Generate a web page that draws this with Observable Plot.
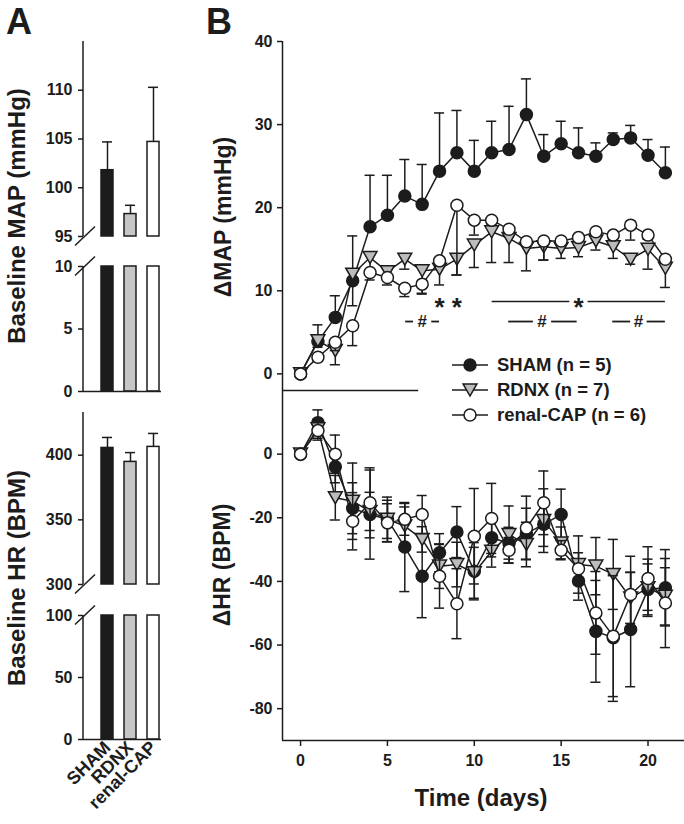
<!DOCTYPE html>
<html>
<head>
<meta charset="utf-8">
<script src="https://cdn.jsdelivr.net/npm/d3@7"></script>
<script src="https://cdn.jsdelivr.net/npm/@observablehq/plot@0.6"></script>
<style>
  body { margin: 0; background: #fff; }
  #fig { position: relative; width: 684px; height: 824px; overflow: hidden; background: #fff; }
  #fig svg { position: absolute; left: 0; top: 0; }
</style>
</head>
<body>
<div id="fig"></div>
<script>
// ---------------- DATA ----------------
// Panel A: baseline values
const categories = ["SHAM", "RDNX", "renal-CAP"];
const baselineMAP = [101.8, 97.3, 104.7];
const baselineMAPsem = [2.9, 0.9, 5.6];
const baselineHR = [405.6, 394.8, 406.4];
const baselineHRsem = [8.1, 7.2, 10.4];
// broken-axis segments
const mapUpperDomain = [95, 115];
const mapLowerDomain = [0, 10];
const hrUpperDomain = [300, 433];
const hrLowerDomain = [0, 100];
const mapUpperTicks = [95, 100, 105, 110];
const mapLowerTicks = [0, 5, 10];
const hrUpperTicks = [300, 350, 400];
const hrLowerTicks = [0, 50, 100];

// Panel B: time course
const groups = ["SHAM", "RDNX", "renal-CAP"];
const groupN = [5, 7, 6];
const days = [0, 1, 2, 3, 4, 5, 6, 7, 8, 9, 10, 11, 12, 13, 14, 15, 16, 17, 18, 19, 20, 21];
const dMAP_SHAM = [0, 3.9, 6.8, 11.2, 17.7, 19.1, 21.4, 20.4, 24.4, 26.6, 24.4, 26.6, 27.0, 31.2, 26.2, 27.7, 26.6, 26.2, 28.2, 28.4, 26.3, 24.2];
const dMAP_SHAM_sem = [0, 2.0, 2.6, 5.4, 6.2, 4.8, 4.4, 4.8, 7.0, 5.1, 3.7, 3.8, 5.2, 4.3, 2.6, 2.7, 3.0, 1.6, 0.8, 1.5, 1.9, 3.1];
const dMAP_RDNX = [0, 4.0, 2.8, 12.0, 14.0, 12.3, 13.8, 12.4, 12.6, 13.8, 15.5, 17.1, 16.3, 15.1, 15.3, 15.1, 15.2, 16.0, 15.3, 13.8, 15.0, 12.7];
const dMAP_RDNX_sem = [0, 0.8, 1.7, 3.8, 1.5, 1.0, 1.2, 2.8, 1.9, 1.9, 2.7, 3.7, 2.9, 2.7, 1.6, 1.2, 1.1, 1.1, 1.4, 0.6, 2.4, 2.3];
const dMAP_CAP = [0, 2.0, 3.8, 5.8, 12.2, 11.6, 10.3, 10.8, 13.6, 20.3, 18.5, 18.5, 17.4, 15.9, 16.0, 16.0, 16.4, 17.1, 16.7, 17.9, 16.7, 13.8];
const dMAP_CAP_sem = [0, 0.5, 1.0, 2.4, 0.9, 0.9, 1.0, 1.1, 0.5, 8.4, 1.8, 0.6, 0.5, 0.5, 2.3, 0.4, 0.5, 0.5, 0.5, 1.8, 0.5, 0.5];

const dHR_SHAM = [0, 9.9, -4, -17, -19.0, -20.5, -29.2, -38.4, -31.0, -24.5, -36.8, -26.3, -28, -25, -22, -19.0, -39.9, -55.7, -57.7, -55.1, -42.5, -42.0];
const dHR_SHAM_sem = [0, 4, 5, 8, 14, 7, 14, 13, 6, 8, 9, 6, 5, 8, 7, 8, 6, 16, 20, 18, 8, 12];
const dHR_RDNX = [0, 8.0, -13.7, -14.8, -18.0, -20.5, -22.6, -26.8, -35.2, -34.7, -37.3, -30.5, -25.3, -28.4, -20.9, -27.9, -34.7, -35.2, -37.8, -45.2, -42.0, -44.7];
const dHR_RDNX_sem = [0, 3, 7, 12, 6, 6, 6, 4, 7, 7, 8, 5, 9, 7, 10, 5, 9, 9, 11, 8, 9, 9];
const dHR_CAP = [0, 7.4, 0, -21.1, -15.3, -21.6, -20.5, -19.0, -38.4, -47.0, -25.8, -20.2, -30.2, -23.2, -15.3, -30.2, -36.0, -49.9, -57.2, -44.1, -39.1, -46.8];
const dHR_CAP_sem = [0, 3, 6, 9, 11, 6, 5, 6, 10, 11, 15, 11, 4, 10, 10, 3, 5, 13, 19, 12, 10, 14];

const mapTicks = [0, 10, 20, 30, 40];
const hrTicks = [0, -20, -40, -60, -80];
const dayTicks = [0, 5, 10, 15, 20];

// significance annotations (day positions, ΔMAP levels)
const starDays = [8, 9, 16];
const starLevel = 8.7;
const starLineSpans = [[11.03, 15.5], [16.55, 21.0]];
const hashDays = [7, 13.9, 19.45];
const hashLevel = 6.3;
const hashDashSpans = [[6.05, 6.5], [7.55, 8.0], [11.98, 13.4], [14.45, 15.92], [17.97, 19.0], [19.95, 21.0]];

// ---------------- STYLE ----------------
const W = 684, H = 824;
const INK = "#1c1c1c";
const NS = "http://www.w3.org/2000/svg";
const FONT = '"Liberation Sans", Arial, Helvetica, sans-serif';
const barFills = ["#1c1c1c", "#c6c6c6", "#ffffff"];
const dotFills = ["#1c1c1c", "#bcbcbc", "#ffffff"];
const baseStyle = `background: transparent; overflow: visible; font-family: ${FONT}; font-size: 16px; font-weight: bold; color: ${INK};`;

const triDown = {
  draw(ctx, size) {
    const s = Math.sqrt(size) * 1.3;
    const h = s * 0.87;
    ctx.moveTo(-s / 2, -h / 2);
    ctx.lineTo(s / 2, -h / 2);
    ctx.lineTo(0, h / 2);
    ctx.closePath();
  }
};
const groupSymbols = ["circle", triDown, "circle"];

function svgLine(x1, y1, x2, y2, sw = 1.5) {
  const l = document.createElementNS(NS, "line");
  l.setAttribute("x1", x1); l.setAttribute("y1", y1);
  l.setAttribute("x2", x2); l.setAttribute("y2", y2);
  l.setAttribute("stroke", INK); l.setAttribute("stroke-width", sw);
  return l;
}
function leftLine() {
  return (index, scales, values, dims) =>
    svgLine(dims.marginLeft, dims.marginTop, dims.marginLeft, dims.height - dims.marginBottom);
}
function slash(edge) {
  return (index, scales, values, dims) => {
    const x = dims.marginLeft + 2;
    const y = edge === "top" ? dims.marginTop : dims.height - dims.marginBottom;
    return svgLine(x - 10, y + 9.5, x + 10, y - 9.5);
  };
}

// ---------------- PANEL A ----------------
function panelASegment({values, sems, domain, ticks, mt, mb, lower, bottom}) {
  const rows = categories.map((c, i) => ({cat: c, v: values[i], e: sems[i]}));
  const marks = [
    Plot.barY(rows, {x: "cat", y1: domain[0], y2: d => Math.min(d.v, domain[1]), fill: "cat", stroke: INK, strokeWidth: 1.5})
  ];
  if (!lower) {
    marks.push(Plot.ruleX(rows, {x: "cat", y1: "v", y2: d => d.v + d.e, stroke: INK, strokeWidth: 1.5}));
    marks.push(Plot.tickY(rows, {x: "cat", y: d => d.v + d.e, stroke: INK, strokeWidth: 1.5, inset: 1}));
  }
  marks.push(Plot.axisY({ticks, tickSize: 5, tickPadding: 6, label: null, tickFormat: d => String(d), strokeWidth: 1.5}));
  marks.push(leftLine());
  if (lower) marks.push(Plot.ruleY([domain[0]], {stroke: INK, strokeWidth: 1.5}));
  marks.push(slash(lower ? "top" : "bottom"));
  if (bottom) marks.push(Plot.axisX({tickRotate: -45, tickSize: 0, tickPadding: 5, label: null, fontSize: 18}));
  const xOpts = {type: "band", domain: categories, range: [89, 172], padding: 0.46};
  if (!bottom) xOpts.axis = null;
  return Plot.plot({
    width: W, height: H, style: baseStyle,
    marginLeft: 83, marginRight: W - 161, marginTop: mt, marginBottom: mb,
    x: xOpts,
    y: {domain},
    color: {domain: categories, range: barFills},
    marks
  });
}

const fig = document.getElementById("fig");
fig.append(panelASegment({values: baselineMAP, sems: baselineMAPsem, domain: mapUpperDomain, ticks: mapUpperTicks, mt: 41, mb: H - 236, lower: false, bottom: false}));
fig.append(panelASegment({values: baselineMAP, sems: baselineMAPsem, domain: mapLowerDomain, ticks: mapLowerTicks, mt: 266, mb: H - 391, lower: true, bottom: false}));
fig.append(panelASegment({values: baselineHR, sems: baselineHRsem, domain: hrUpperDomain, ticks: hrUpperTicks, mt: 412, mb: H - 584, lower: false, bottom: false}));
fig.append(panelASegment({values: baselineHR, sems: baselineHRsem, domain: hrLowerDomain, ticks: hrLowerTicks, mt: 615, mb: H - 739, lower: true, bottom: true}));

// ---------------- PANEL B ----------------
const xDom = [-1.04, 22.1];
const capHalf = 0.29;

function groupRows(vals, sems) {
  return days.map((d, i) => ({day: d, v: vals[i], e: sems[i]}));
}
function seriesMarks(gi, rows, mode) {
  const withErr = rows.filter(d => d.e > 0);
  const lo = d => (mode === "up" ? d.v : d.v - d.e);
  const hi = d => (mode === "down" ? d.v : d.v + d.e);
  const marks = [
    Plot.ruleX(withErr, {x: "day", y1: lo, y2: hi, stroke: INK, strokeWidth: 1.5})
  ];
  if (mode !== "down") marks.push(Plot.ruleY(withErr, {y: d => d.v + d.e, x1: d => d.day - capHalf, x2: d => d.day + capHalf, stroke: INK, strokeWidth: 1.5}));
  if (mode !== "up") marks.push(Plot.ruleY(withErr, {y: d => d.v - d.e, x1: d => d.day - capHalf, x2: d => d.day + capHalf, stroke: INK, strokeWidth: 1.5}));
  marks.push(Plot.line(rows, {x: "day", y: "v", stroke: INK, strokeWidth: 1.5}));
  marks.push(Plot.dot(rows, {x: "day", y: "v", r: 6, symbol: groupSymbols[gi], fill: dotFills[gi], stroke: INK, strokeWidth: 1.5}));
  return marks;
}

const mapSeries = [groupRows(dMAP_SHAM, dMAP_SHAM_sem), groupRows(dMAP_RDNX, dMAP_RDNX_sem), groupRows(dMAP_CAP, dMAP_CAP_sem)];
const hrSeries = [groupRows(dHR_SHAM, dHR_SHAM_sem), groupRows(dHR_RDNX, dHR_RDNX_sem), groupRows(dHR_CAP, dHR_CAP_sem)];
const mapModes = ["up", "down", "down"];

const starRows = starDays.map(d => ({day: d, v: starLevel}));
const hashRows = hashDays.map(d => ({day: d, v: hashLevel}));

fig.append(Plot.plot({
  width: W, height: H, style: baseStyle,
  marginLeft: 282, marginRight: 0, marginTop: 41, marginBottom: H - 390,
  x: {domain: xDom, axis: null},
  y: {domain: [-2, 40]},
  marks: [
    Plot.ruleX([xDom[0]], {stroke: INK, strokeWidth: 1.5}),
    Plot.ruleY([-2], {x1: xDom[0], x2: 6.8, stroke: INK, strokeWidth: 1.5}),
    Plot.axisY({ticks: mapTicks, tickSize: 5, tickPadding: 5, label: null, tickFormat: d => String(d), strokeWidth: 1.5}),
    ...mapSeries.flatMap((rows, gi) => seriesMarks(gi, rows, mapModes[gi])),
    Plot.ruleY(starLineSpans, {y: starLevel, x1: d => d[0], x2: d => d[1], stroke: INK, strokeWidth: 1.5}),
    Plot.ruleY(hashDashSpans, {y: hashLevel, x1: d => d[0], x2: d => d[1], stroke: INK, strokeWidth: 1.8}),
    Plot.text(starRows, {x: "day", y: "v", text: () => "*", fontSize: 26, fontWeight: "bold", dy: 6.5, fill: INK}),
    Plot.text(hashRows, {x: "day", y: "v", text: () => "#", fontSize: 17, fontWeight: "bold", fill: INK})
  ]
}));

fig.append(Plot.plot({
  width: W, height: H, style: baseStyle,
  marginLeft: 282, marginRight: 0, marginTop: 390, marginBottom: H - 740,
  x: {domain: xDom},
  y: {domain: [-90, 20]},
  marks: [
    Plot.ruleX([xDom[0]], {stroke: INK, strokeWidth: 1.5}),
    Plot.ruleY([-90], {stroke: INK, strokeWidth: 1.5}),
    Plot.axisY({ticks: hrTicks, tickSize: 5, tickPadding: 5, label: null, tickFormat: d => String(d), strokeWidth: 1.5}),
    Plot.axisX({ticks: dayTicks, tickSize: 6, tickPadding: 8, label: null, tickFormat: d => String(d), strokeWidth: 1.5}),
    ...hrSeries.flatMap((rows, gi) => seriesMarks(gi, rows, "both"))
  ]
}));

// ---------------- TEXT / LEGEND OVERLAY ----------------
const ov = d3.create("svg").attr("width", W).attr("height", H)
  .attr("font-family", FONT).attr("font-weight", "bold").attr("fill", INK)
  .style("overflow", "visible");

ov.append("text").attr("x", 6).attr("y", 34).attr("font-size", 36).text("A");
ov.append("text").attr("x", 206).attr("y", 34).attr("font-size", 36).text("B");

function vTitle(txt, x, y, size) {
  ov.append("text").attr("transform", `translate(${x},${y}) rotate(-90)`)
    .attr("text-anchor", "middle").attr("dy", "0.35em").attr("font-size", size).text(txt);
}
vTitle("Baseline MAP (mmHg)", 17, 216, 24);
vTitle("Baseline HR (BPM)", 17, 578, 24);
vTitle("ΔMAP (mmHg)", 223, 217, 23);
vTitle("ΔHR (BPM)", 222, 565, 23);
ov.append("text").attr("x", 481).attr("y", 806).attr("text-anchor", "middle").attr("font-size", 24).text("Time (days)");

// legend
groups.forEach((g, i) => {
  const y = 365 + 25 * i;
  ov.append("line").attr("x1", 452).attr("x2", 488).attr("y1", y).attr("y2", y).attr("stroke", INK).attr("stroke-width", 1.5);
  if (i === 1) {
    const p = d3.path(); triDown.draw(p, Math.PI * 36);
    ov.append("path").attr("d", p.toString()).attr("transform", `translate(470,${y})`)
      .attr("fill", dotFills[i]).attr("stroke", INK).attr("stroke-width", 1.5);
  } else {
    ov.append("circle").attr("cx", 470).attr("cy", y).attr("r", 6)
      .attr("fill", dotFills[i]).attr("stroke", INK).attr("stroke-width", 1.5);
  }
  ov.append("text").attr("x", 497).attr("y", y).attr("dy", "0.35em").attr("font-size", 18.5)
    .text(`${g} (n = ${groupN[i]})`);
});
fig.append(ov.node());
</script>
</body>
</html>
